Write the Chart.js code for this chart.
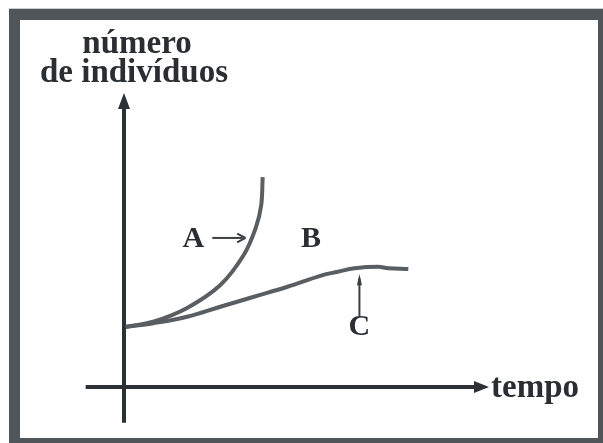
<!DOCTYPE html>
<html>
<head>
<meta charset="utf-8">
<script src="https://cdn.jsdelivr.net/npm/chart.js@4/dist/chart.umd.min.js"></script>
<style>
  html, body { margin: 0; padding: 0; background: #ffffff; }
  #c { display: block; }
</style>
</head>
<body>
<canvas id="c" width="603" height="443"></canvas>
<script>
// ---- data (time vs number of individuals, arbitrary units) ----
const curveA_x = [0.5, 8.0, 17.3, 26.4, 32.8, 36.1, 37.6, 38.0];
const curveA_y = [20.4, 22.2, 26.9, 34.7, 44.9, 54.1, 61.9, 71.4];
const curveC_x = [0.5, 8.1, 17.3, 26.4, 35.6, 44.8, 54.0, 58.6, 63.2, 69.6, 72.4, 77.9];
const curveC_y = [20.5, 21.7, 23.9, 27.3, 30.7, 34.1, 37.9, 39.2, 40.4, 40.9, 40.4, 40.1];
const yAxisTitle = ["número", "de indivíduos"];
const xAxisTitle = "tempo";
const curveLabels = ["A", "B", "C"];

const AXIS_COLOR = '#2c3136';
const CURVE_COLOR = '#595e62';
const FRAME_COLOR = '#4f5559';
const FONT = 'bold 33px "Liberation Serif", serif';
const LABEL_FONT = 'bold 30px "Liberation Serif", serif';

function toPts(xs, ys) { return xs.map((x, i) => ({ x: x, y: ys[i] })); }

const decor = {
  id: 'decor',
  beforeDraw(chart) {
    const ctx = chart.ctx;
    ctx.save();
    ctx.fillStyle = '#ffffff';
    ctx.fillRect(0, 0, chart.width, chart.height);
    ctx.fillStyle = '#c9cbcc';
    ctx.fillRect(9, 8, chart.width, 1);
    ctx.fillStyle = FRAME_COLOR;
    ctx.fillRect(9, 9, chart.width, chart.height);
    ctx.fillStyle = '#ffffff';
    ctx.fillRect(20, 20, 578, 418);
    ctx.restore();
  },
  beforeDatasetsDraw(chart) {
    const ctx = chart.ctx;
    const xs = chart.scales.x, ys = chart.scales.y;
    const x0 = xs.getPixelForValue(0), y0 = ys.getPixelForValue(0);
    const xEnd = xs.getPixelForValue(100), yEnd = ys.getPixelForValue(100);
    const xStart = xs.getPixelForValue(-10.5), yStart = ys.getPixelForValue(-12.2);
    ctx.save();
    ctx.strokeStyle = AXIS_COLOR;
    ctx.fillStyle = AXIS_COLOR;
    ctx.lineWidth = 4;
    ctx.lineCap = 'butt';
    // y axis
    ctx.beginPath();
    ctx.moveTo(x0, yStart);
    ctx.lineTo(x0, yEnd + 12);
    ctx.stroke();
    ctx.beginPath();
    ctx.moveTo(x0, yEnd);
    ctx.lineTo(x0 - 6, yEnd + 16);
    ctx.lineTo(x0 + 6, yEnd + 16);
    ctx.closePath();
    ctx.fill();
    // x axis
    ctx.beginPath();
    ctx.moveTo(xStart, y0);
    ctx.lineTo(xEnd - 12, y0);
    ctx.stroke();
    ctx.beginPath();
    ctx.moveTo(xEnd, y0);
    ctx.lineTo(xEnd - 15, y0 - 6);
    ctx.lineTo(xEnd - 15, y0 + 6);
    ctx.closePath();
    ctx.fill();

    // axis titles
    ctx.fillStyle = '#2a2e32';
    ctx.font = FONT;
    ctx.textAlign = 'center';
    ctx.textBaseline = 'alphabetic';
    ctx.fillText(yAxisTitle[0], x0 + 13, yEnd - 40);
    ctx.fillText(yAxisTitle[1], x0 + 10, yEnd - 11);
    ctx.textAlign = 'left';
    ctx.fillText(xAxisTitle, xEnd + 2, y0 + 10);
    ctx.restore();
  },
  afterDatasetsDraw(chart) {
    const ctx = chart.ctx;
    const xs = chart.scales.x, ys = chart.scales.y;
    const px = v => xs.getPixelForValue(v), py = v => ys.getPixelForValue(v);
    ctx.save();
    ctx.fillStyle = '#2a2e32';
    ctx.strokeStyle = '#3a3f43';
    ctx.font = LABEL_FONT;
    ctx.textAlign = 'center';
    ctx.textBaseline = 'alphabetic';
    // A label with arrow
    ctx.fillText(curveLabels[0], px(19.0), py(47.6));
    ctx.lineWidth = 2;
    ctx.beginPath();
    ctx.moveTo(px(24.2), py(50.7));
    ctx.lineTo(px(32.5), py(50.7));
    ctx.stroke();
    ctx.beginPath();
    ctx.moveTo(px(33.3), py(50.7));
    ctx.lineTo(px(31.0), py(52.2));
    ctx.moveTo(px(33.3), py(50.7));
    ctx.lineTo(px(31.0), py(49.2));
    ctx.stroke();
    // B label
    ctx.fillText(curveLabels[1], px(51.2), py(47.6));
    // C label with up arrow
    ctx.fillText(curveLabels[2], px(64.5), py(17.8));
    ctx.beginPath();
    ctx.moveTo(px(64.5), py(23.8));
    ctx.lineTo(px(64.5), py(37.0));
    ctx.stroke();
    ctx.beginPath();
    ctx.moveTo(px(64.5), py(38.4));
    ctx.lineTo(px(64.5) - 2.5, py(34.6));
    ctx.lineTo(px(64.5) + 2.5, py(34.6));
    ctx.closePath();
    ctx.fillStyle = '#3a3f43';
    ctx.fill();
    ctx.restore();
  }
};

new Chart(document.getElementById('c'), {
  type: 'scatter',
  data: {
    datasets: [
      {
        label: 'A',
        data: toPts(curveA_x, curveA_y),
        showLine: true,
        borderColor: CURVE_COLOR,
        borderWidth: 4,
        pointRadius: 0,
        tension: 0.3,
        fill: false
      },
      {
        label: 'C',
        data: toPts(curveC_x, curveC_y),
        showLine: true,
        borderColor: CURVE_COLOR,
        borderWidth: 4,
        pointRadius: 0,
        tension: 0.4,
        fill: false
      }
    ]
  },
  options: {
    responsive: false,
    animation: false,
    events: [],
    layout: { padding: { left: 124, right: 114, top: 93, bottom: 56 } },
    scales: {
      x: { type: 'linear', min: 0, max: 100, display: false },
      y: { type: 'linear', min: 0, max: 100, display: false }
    },
    plugins: { legend: { display: false }, tooltip: { enabled: false } },
    clip: false
  },
  plugins: [decor]
});
</script>
</body>
</html>
